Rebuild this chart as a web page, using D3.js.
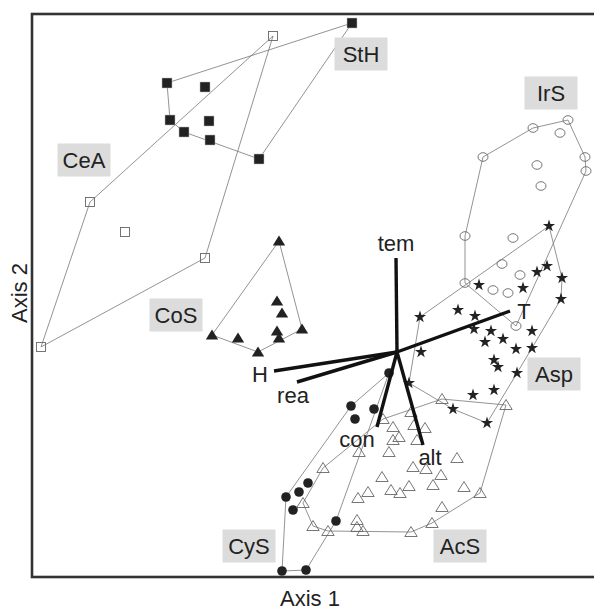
<!DOCTYPE html>
<html>
<head>
<meta charset="utf-8">
<script src="https://cdn.jsdelivr.net/npm/d3@7"></script>
<style>
  body { margin: 0; background: #fff; }
  text { font-family: "Liberation Sans", Arial, sans-serif; fill: #222; }
</style>
</head>
<body>
<svg id="chart" width="594" height="610"></svg>
<script>
// site scores on the first two ordination axes
const sth = [[-0.45,3.29],[-2.30,2.69],[-1.92,2.65],[-2.27,2.32],[-1.88,2.31],[-2.13,2.20],[-1.87,2.12],[-1.38,1.93]]
const cea = [[-1.24,3.16],[-3.07,1.50],[-2.72,1.20],[-1.92,0.94],[-3.56,0.05]]
const cos = [[-1.18,1.11],[-1.20,0.51],[-1.15,0.39],[-1.85,0.17],[-1.59,0.14],[-1.20,0.21],[-1.18,0.14],[-0.95,0.23],[-1.39,0.00]]
const irs = [[1.71,2.32],[1.36,2.24],[1.63,2.19],[0.86,1.95],[1.88,1.95],[1.89,1.81],[1.40,1.87],[1.44,1.66],
             [0.68,1.16],[1.16,1.14],[1.05,0.88],[1.23,0.77],[0.68,0.69],[0.96,0.62],[1.11,0.59],[1.19,0.26]]
const asp = [[1.52,1.26],[1.50,0.86],[1.40,0.80],[1.65,0.74],[0.82,0.67],[1.26,0.64],[1.64,0.53],[0.61,0.42],
             [0.78,0.36],[0.23,0.35],[0.77,0.23],[0.94,0.21],[1.35,0.21],[0.88,0.10],[1.06,0.13],[1.19,0.03],
             [1.35,0.04],[0.24,0.00],[0.97,-0.08],[1.01,-0.15],[1.20,-0.21],[0.12,-0.31],[0.97,-0.38],[0.76,-0.43],
             [0.56,-0.57],[0.90,-0.71]]
const cys = [[-0.08,-0.21],[-0.46,-0.54],[-0.23,-0.57],[-0.42,-0.67],[-0.89,-1.31],[-0.98,-1.40],[-1.11,-1.45],
             [-1.04,-1.58],[-0.61,-1.69],[-1.15,-2.19],[-0.91,-2.18]]
const acs = [[0.45,-0.47],[0.14,-0.60],[-0.14,-0.67],[-0.04,-0.75],[0.28,-0.76],[0.17,-0.73],[0.02,-0.85],
             [-0.04,-0.88],[0.20,-0.88],[-0.08,-1.00],[-0.38,-1.00],[0.16,-1.15],[0.29,-1.17],[-0.74,-1.16],
             [0.44,-1.23],[-0.15,-1.25],[0.12,-1.34],[0.36,-1.33],[-0.06,-1.38],[0.03,-1.41],[-0.29,-1.40],
             [-0.39,-1.46],[-0.94,-1.51],[0.45,-1.55],[0.35,-1.71],[-0.40,-1.68],[-0.40,-1.75],[-0.34,-1.79],
             [-0.84,-1.74],[-0.69,-1.79],[0.14,-1.80],[1.09,-0.53],[0.60,-1.06],[0.67,-1.35],[0.83,-1.41]]

// environmental vectors (biplot arrows)
const vecNames = ["tem", "T", "H", "rea", "con", "alt"]
const vecX = [-0.01, 1.13, -1.23, -1.00, -0.20, 0.26]
const vecY = [0.94, 0.41, -0.19, -0.30, -0.75, -0.93]

const groupNames = ["StH", "CeA", "CoS", "IrS", "Asp", "AcS", "CyS"]

const svg = d3.select("#chart")
const margin = {left: 32, top: 14, bottom: 577}
const fs = 22

const x = d3.scaleLinear().domain([-3.65, 2.05]).range([margin.left, 602])
const y = d3.scaleLinear().domain([-2.25, 3.38]).range([margin.bottom, margin.top])

const groups = [
    {name: "StH", data: sth, mark: "squareFill"},
    {name: "CeA", data: cea, mark: "squareOpen"},
    {name: "CoS", data: cos, mark: "triFill"},
    {name: "IrS", data: irs, mark: "circleOpen"},
    {name: "Asp", data: asp, mark: "star"},
    {name: "CyS", data: cys, mark: "circleFill"},
    {name: "AcS", data: acs, mark: "triOpen"}
]

// hulls round each group
const hullG = svg.append("g").attr("class", "hulls")
groups.forEach(function(g){
    const pts = g.data.map(d => [x(d[0]), y(d[1])])
    const hull = d3.polygonHull(pts)
    hullG.append("path")
        .attr("d", "M" + hull.join("L") + "Z")
        .attr("fill", "none")
        .attr("stroke", "#777")
        .attr("stroke-width", 0.8)
})

// markers
const tri = "M0,-5.5L6.2,4.5L-6.2,4.5Z"
const markG = svg.append("g").attr("class", "marks")
groups.forEach(function(g){
    const sel = markG.append("g").selectAll("path")
        .data(g.data).enter()
    if (g.mark === "squareFill") {
        sel.append("rect")
            .attr("x", d => x(d[0]) - 5).attr("y", d => y(d[1]) - 5)
            .attr("width", 10).attr("height", 10)
            .attr("fill", "#222").attr("stroke", "#bbb").attr("stroke-width", 0.5)
    } else if (g.mark === "squareOpen") {
        sel.append("rect")
            .attr("x", d => x(d[0]) - 4.5).attr("y", d => y(d[1]) - 4.5)
            .attr("width", 9).attr("height", 9)
            .attr("fill", "none").attr("stroke", "#666").attr("stroke-width", 0.9)
    } else if (g.mark === "triFill") {
        sel.append("path")
            .attr("d", tri)
            .attr("transform", d => "translate(" + x(d[0]) + "," + y(d[1]) + ")")
            .attr("fill", "#222")
    } else if (g.mark === "triOpen") {
        sel.append("path")
            .attr("d", tri)
            .attr("transform", d => "translate(" + x(d[0]) + "," + y(d[1]) + ")")
            .attr("fill", "none").attr("stroke", "#666").attr("stroke-width", 0.9)
    } else if (g.mark === "circleOpen") {
        sel.append("ellipse")
            .attr("cx", d => x(d[0])).attr("cy", d => y(d[1]))
            .attr("rx", 5).attr("ry", 4.3)
            .attr("fill", "none").attr("stroke", "#666").attr("stroke-width", 0.9)
    } else if (g.mark === "circleFill") {
        sel.append("circle")
            .attr("cx", d => x(d[0])).attr("cy", d => y(d[1]))
            .attr("r", 4.8)
            .attr("fill", "#222")
    } else if (g.mark === "star") {
        sel.append("path")
            .attr("d", d3.symbol().type(d3.symbolStar).size(46))
            .attr("transform", d => "translate(" + x(d[0]) + "," + y(d[1]) + ")")
            .attr("fill", "#222")
    }
})

// biplot vectors
const vecG = svg.append("g").attr("class", "vectors")
// label offset in px from arrow tip
const vecOff = {tem: [0, -7], T: [14, 8], H: [-14, 11], rea: [-4, 21], con: [-20, 20], alt: [7, 20]}
vecNames.forEach(function(n, i){
    vecG.append("line")
        .attr("x1", x(0)).attr("y1", y(0))
        .attr("x2", x(vecX[i])).attr("y2", y(vecY[i]))
        .attr("stroke", "#111").attr("stroke-width", 3.4)
        .attr("stroke-linecap", "butt")
    vecG.append("text")
        .attr("x", x(vecX[i]) + vecOff[n][0])
        .attr("y", y(vecY[i]) + vecOff[n][1])
        .attr("text-anchor", "middle")
        .attr("font-size", fs)
        .text(n)
})

// group label boxes (centre, in axis units)
const labelPos = {StH: [-0.36, 2.98], CeA: [-3.13, 1.92], CoS: [-2.21, 0.37], IrS: [1.54, 2.59],
                  Asp: [1.57, -0.22], AcS: [0.63, -1.94], CyS: [-1.48, -1.94]}
const labG = svg.append("g").attr("class", "group-labels")
groupNames.forEach(function(n){
    const cx = x(labelPos[n][0]), cy = y(labelPos[n][1])
    labG.append("rect")
        .attr("x", cx - 26.5).attr("y", cy - 16.5)
        .attr("width", 53).attr("height", 33)
        .attr("fill", "#dcdcdc")
    labG.append("text")
        .attr("x", cx).attr("y", cy + 8)
        .attr("text-anchor", "middle")
        .attr("font-size", fs)
        .text(n)
})

// frame (right side runs off the page)
svg.append("rect")
    .attr("x", margin.left).attr("y", margin.top)
    .attr("width", 610).attr("height", margin.bottom - margin.top)
    .attr("fill", "none").attr("stroke", "#333").attr("stroke-width", 2.6)

svg.append("text")
    .attr("x", 310).attr("y", 606)
    .attr("text-anchor", "middle").attr("font-size", fs)
    .text("Axis 1")

svg.append("text")
    .attr("transform", "translate(27,293) rotate(-90)")
    .attr("text-anchor", "middle").attr("font-size", fs)
    .text("Axis 2")
</script>
</body>
</html>
